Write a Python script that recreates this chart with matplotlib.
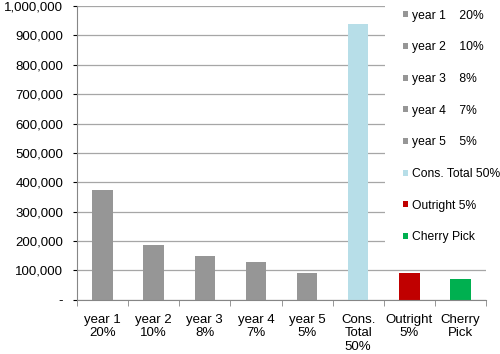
import matplotlib.pyplot as plt
from matplotlib.patches import Rectangle
from matplotlib.ticker import FuncFormatter

plt.rcParams['font.family'] = ['Liberation Sans', 'DejaVu Sans']

cats = ["year 1\n20%", "year 2\n10%", "year 3\n8%", "year 4\n7%", "year 5\n5%",
        "Cons.\nTotal\n50%", "Outright\n5%", "Cherry\nPick"]
legend_labels = ["year 1    20%", "year 2    10%", "year 3    8%", "year 4    7%",
                 "year 5    5%", "Cons. Total 50%", "Outright 5%", "Cherry Pick"]
values = [374000, 187000, 149000, 129000, 92000, 940000, 92000, 70000]
colors = ["#969696"] * 5 + ["#b7dee8", "#c00000", "#00b050"]

fig = plt.figure(figsize=(5, 3.54), dpi=100)
ax = fig.add_axes([0.154, 0.153, 0.818, 0.83])
ax.set_axisbelow(True)

for i in range(len(values)):
    ax.bar(i, values[i], width=0.4, color=colors[i], label=legend_labels[i], zorder=2)

ax.set_xlim(-0.5, len(values) - 0.5)
ax.set_ylim(0, 1000000)
ax.set_yticks(range(0, 1000001, 100000))
ax.yaxis.set_major_formatter(FuncFormatter(lambda v, p: "-" if v == 0 else f"{int(v):,}"))
ax.grid(axis='y', color='#a6a6a6', linewidth=0.9)

ax.set_xticks(range(len(cats)))
ax.set_xticklabels(cats, linespacing=1.18)
ax.set_xticks([i - 0.5 for i in range(len(cats) + 1)], minor=True)
ax.tick_params(axis='x', which='major', length=0, pad=10)
ax.tick_params(axis='x', which='minor', length=4, color='#868686')
ax.tick_params(axis='y', length=3, color='#868686', pad=7)
ax.tick_params(labelsize=9.5, colors='black')

for s in ['top', 'right']:
    ax.spines[s].set_visible(False)
for s in ['left', 'bottom']:
    ax.spines[s].set_color('#868686')

# white legend area laid over the gridlines
ax.add_patch(Rectangle((0.753, 0.15), 0.3, 0.9, transform=ax.transAxes,
                       facecolor='white', edgecolor='none', zorder=1, clip_on=False))

leg = ax.legend(loc='upper left', bbox_to_anchor=(0.798, 0.988), frameon=False,
                fontsize=8.7, handlelength=0.4, handleheight=0.4, handletextpad=0.3,
                labelspacing=1.63, borderpad=0, borderaxespad=0)
leg.set_zorder(5)

plt.savefig("out.png", dpi=100)
